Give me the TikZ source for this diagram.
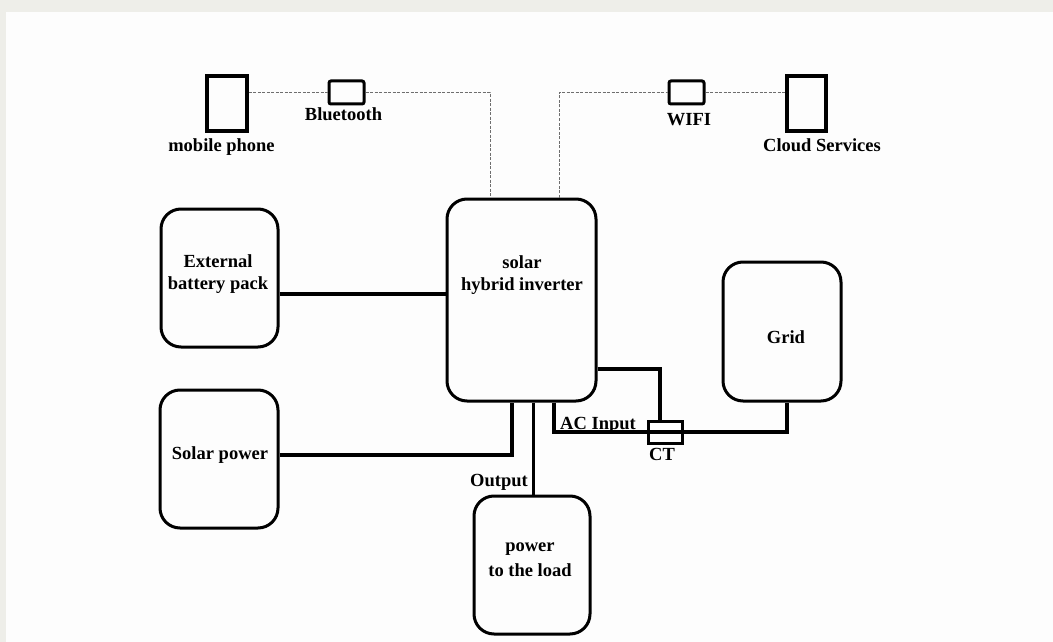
\documentclass[tikz,border=0pt]{standalone}
\usepackage{fontspec}
\setmainfont{Liberation Serif}
\usetikzlibrary{calc}
\definecolor{frame}{HTML}{EEEEE9}
\definecolor{paper}{HTML}{FDFDFD}
\definecolor{linkgray}{HTML}{6E6E6E}
\begin{document}
\begin{tikzpicture}[x=1pt,y=-1pt,
  unit/.style={draw, line width=3pt, rounded corners=20pt, inner sep=0pt},
  device/.style={draw, line width=3.5pt, inner sep=0pt},
  port/.style={draw, line width=3pt, rounded corners=2pt, inner sep=0pt},
  lbl/.style={font=\fontsize{18.5}{22}\selectfont\bfseries, inner sep=0pt, align=center},
  wire/.style={line width=3.5pt},
  heavy/.style={line width=4.5pt},
  link/.style={draw=linkgray, line width=1pt, dash pattern=on 3pt off 1.5pt}]
\fill[frame] (0,0) rectangle (1053,642);
\fill[paper] (6,12) rectangle (1053,642);
\useasboundingbox (0,0) rectangle (1053,642);

% main units
\node[unit, minimum width=149pt, minimum height=202pt] (inv) at (521.5,300) {};
\node[unit, minimum width=117pt, minimum height=138pt] (bat) at (219.5,278) {};
\node[unit, minimum width=118pt, minimum height=138pt] (sol) at (219,459) {};
\node[unit, minimum width=118pt, minimum height=139pt] (grid) at (782,331.5) {};
\node[unit, minimum width=116pt, minimum height=138pt] (load) at (532,565) {};

% unit texts
\node[lbl] (invt) at (522,275) {solar\\hybrid inverter};
\node[lbl] (batt) at (218,274) {External\\battery pack};
\node[lbl] (solt) at (220,455.5) {Solar power};
\node[lbl] (gridt) at (786,337) {Grid};
\node[lbl, font=\fontsize{18.5}{25}\selectfont\bfseries] (loadt) at (530,559.5) {power\\to the load};

% devices
\node[device, minimum width=40pt, minimum height=55pt] (phone) at (227,103.5) {};
\node[device, minimum width=39pt, minimum height=55pt] (cloud) at (806.5,103.5) {};
\node[port, minimum width=35pt, minimum height=23pt] (bt) at (346.5,92.5) {};
\node[port, minimum width=35pt, minimum height=23pt] (wifi) at (686.5,92.5) {};
\node[draw, line width=3pt, inner sep=0pt, minimum width=34pt, minimum height=22pt] (ct) at (665,432) {};

% device labels
\node[lbl, anchor=base] (phonet) at (221.5,151) {mobile phone};
\node[lbl, anchor=base] (btt) at (343.5,121) {Bluetooth};
\node[lbl, anchor=base] (wifit) at (689,125) {WIFI};
\node[lbl, anchor=base] (cloudt) at (822,151) {Cloud Services};
\node[lbl, anchor=base] (acin) at (598,429) {AC Input};
\node[lbl, anchor=base] (ctt) at (662,460) {CT};
\node[lbl, anchor=base] (outt) at (499,486) {Output};

% dotted communication links
\draw[link] (phone.east |- bt.west) -- (bt.west);
\draw[link] (bt.east) -| (inv.north -| 490,0);
\draw[link] (inv.north -| 559,0) |- (wifi.west);
\draw[link] (wifi.east) -- (cloud.west |- wifi.east);

% power connections
\draw[heavy] (bat.east |- 0,294) -- (inv.west |- 0,294);
\draw[wire, line width=4pt] (sol.east |- 0,455) -| (inv.south -| 512,0);
\draw[wire, line width=3pt] (inv.south -| 533,0) -- (load.north -| 533,0);
\draw[wire] (inv.south -| 554,0) |- (ct.west);
\draw[wire] (ct.west) -- (ct.east);
\draw[wire] (ct.east) -| (grid.south -| 787,0);
\draw[wire] (inv.east |- 0,369) -| (ct.north -| 660,0);
\end{tikzpicture}
\end{document}
